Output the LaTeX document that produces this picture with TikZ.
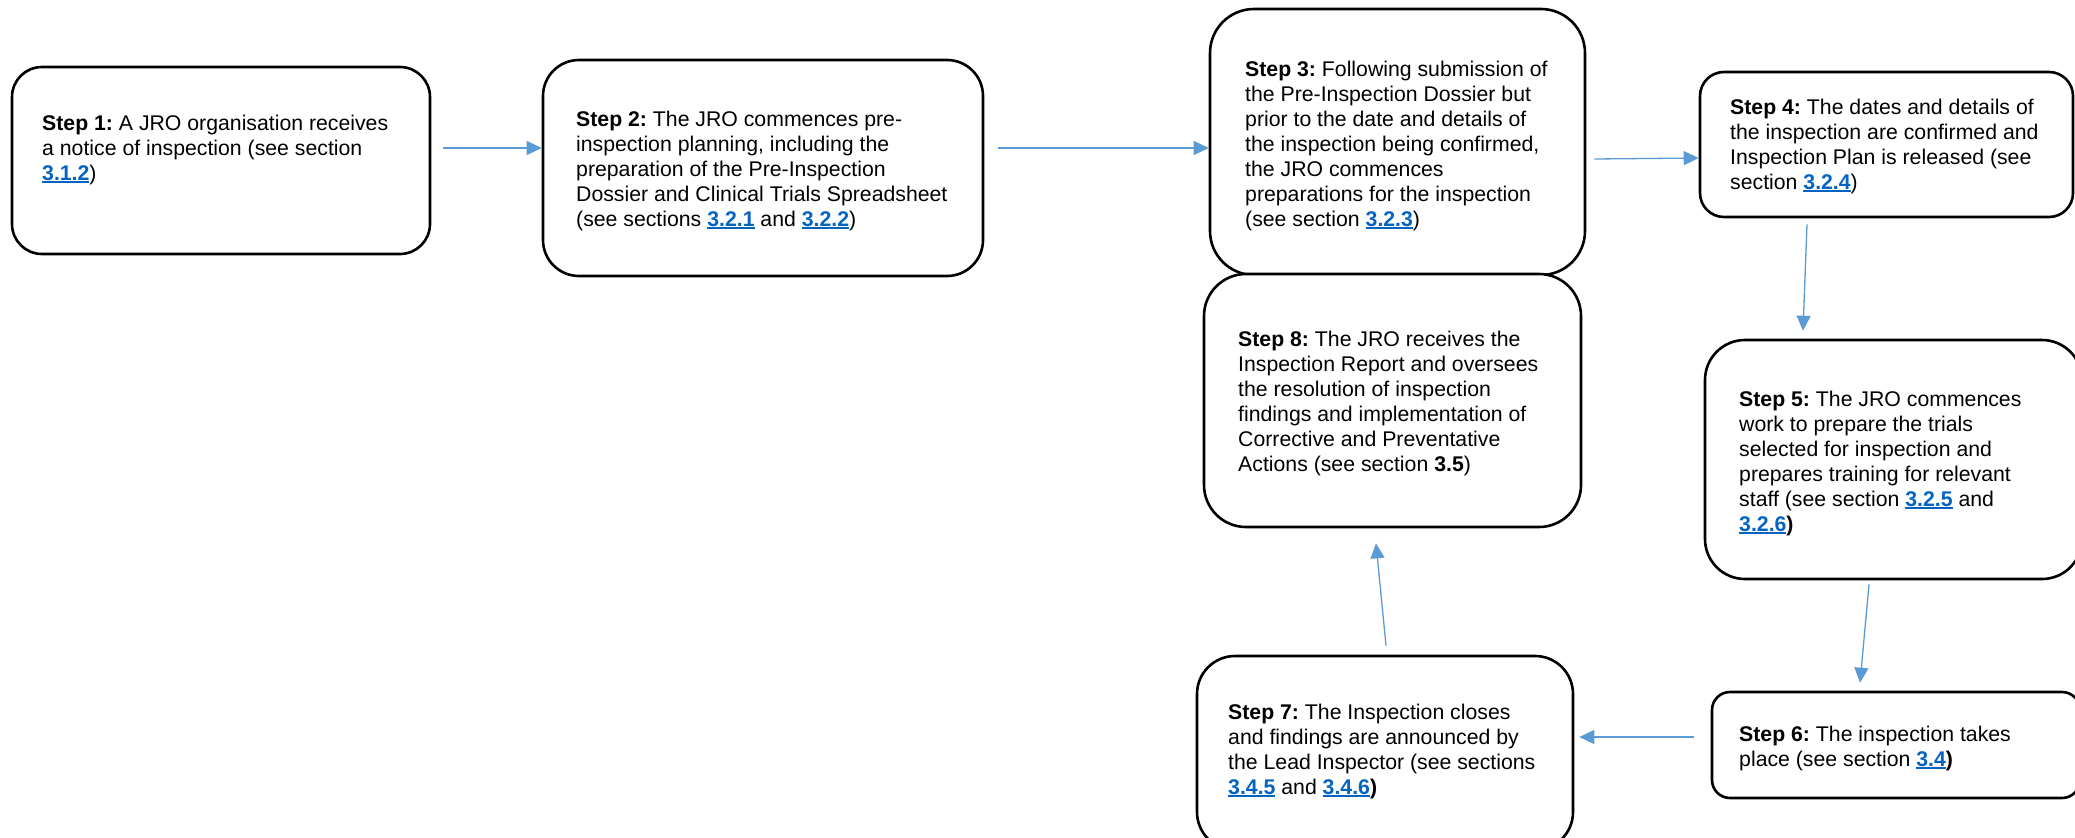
\documentclass[tikz,border=0pt]{standalone}
\usepackage{fontspec}
\setmainfont{Liberation Sans}
\usetikzlibrary{arrows.meta,calc}
\definecolor{linkblue}{HTML}{0563C1}
\definecolor{arrowblue}{HTML}{5B9BD5}
\newcommand{\lnk}[1]{\textcolor{linkblue}{\bfseries\setbox0\hbox{#1}\rlap{\rule[-3.2pt]{\wd0}{2pt}}\box0}}
\newcommand{\stp}[1]{\rule{0pt}{17pt}\textbf{#1}}
\frenchspacing
\begin{document}
\begin{tikzpicture}[x=1pt,y=-1pt,
  box/.style={draw=black, line width=2.6pt, fill=white, rounded corners=#1, inner sep=0pt, shape=rectangle},
  txt/.style={font=\fontsize{21.25}{25}\selectfont\frenchspacing, align=left, inner sep=0pt, anchor=north west},
  arr/.style={draw=arrowblue, line width=1.3pt, -{Triangle[length=15pt,width=14pt]}}]
\fill[white] (0,0) rectangle (2075,838);
\useasboundingbox (0,0) rectangle (2075,838);

% boxes
\node[box=30, minimum width=418, minimum height=187] (s1) at (221,160.5) {};
\node[box=36, minimum width=440, minimum height=216] (s2) at (763,168) {};
\node[box=44, minimum width=375, minimum height=266] (s3) at (1397.5,142) {};
\node[box=42, minimum width=377, minimum height=253] (s8) at (1392.5,400.5) {};
\node[box=24, minimum width=373, minimum height=145] (s4) at (1886.5,144.5) {};
\node[box=40, minimum width=377, minimum height=239] (s5) at (1893.5,459.5) {};
\node[box=18, minimum width=368, minimum height=106] (s6) at (1896,745) {};
\node[box=38, minimum width=376, minimum height=194] (s7) at (1385,753) {};

% texts
\node[txt] (t1) at (42,113) {\stp{Step 1:} A JRO organisation receives\\a notice of inspection (see section\\\lnk{3.1.2})};
\node[txt] (t2) at (576,109) {\stp{Step 2:} The JRO commences pre-\\inspection planning, including the\\preparation of the Pre-Inspection\\Dossier and Clinical Trials Spreadsheet\\(see sections \lnk{3.2.1} and \lnk{3.2.2})};
\node[txt] (t3) at (1245,59) {\stp{Step 3:} Following submission of\\the Pre-Inspection Dossier but\\prior to the date and details of\\the inspection being confirmed,\\the JRO commences\\preparations for the inspection\\(see section \lnk{3.2.3})};
\node[txt] (t4) at (1730,97) {\stp{Step 4:} The dates and details of\\the inspection are confirmed and\\Inspection Plan is released (see\\section \lnk{3.2.4})};
\node[txt] (t5) at (1739,389) {\stp{Step 5:} The JRO commences\\work to prepare the trials\\selected for inspection and\\prepares training for relevant\\staff (see section \lnk{3.2.5} and\\\lnk{3.2.6}\textbf{)}};
\node[txt] (t6) at (1739,724) {\stp{Step 6:} The inspection takes\\place (see section \lnk{3.4}\textbf{)}};
\node[txt] (t7) at (1228,702) {\stp{Step 7:} The Inspection closes\\and findings are announced by\\the Lead Inspector (see sections\\\lnk{3.4.5} and \lnk{3.4.6}\textbf{)}};
\node[txt] (t8) at (1238,329) {\stp{Step 8:} The JRO receives the\\Inspection Report and oversees\\the resolution of inspection\\findings and implementation of\\Corrective and Preventative\\Actions (see section \textbf{3.5})};

% connectors
\draw[arr] ([xshift=12pt,yshift=12.5pt]s1.east) -- ([yshift=20pt]s2.west);
\draw[arr] ([xshift=14pt,yshift=20pt]s2.east) -- ([yshift=-6pt]s3.west);
\draw[arr] ([xshift=8pt,yshift=-17pt]s3.east) -- ([yshift=-13.5pt]s4.west);
\draw[arr] ([xshift=-79.5pt,yshift=-6pt]s4.south) -- ([xshift=-90.5pt,yshift=8pt]s5.north);
\draw[arr] ([xshift=-24.5pt,yshift=-4pt]s5.south) -- ([xshift=-36pt,yshift=8pt]s6.north);
\draw[arr] ([xshift=-17pt,yshift=8pt]s6.west) -- ([xshift=5pt,yshift=16pt]s7.east);
\draw[arr] ([xshift=1pt,yshift=9pt]s7.north) -- ([xshift=-16.5pt,yshift=-15pt]s8.south);
\end{tikzpicture}
\end{document}
